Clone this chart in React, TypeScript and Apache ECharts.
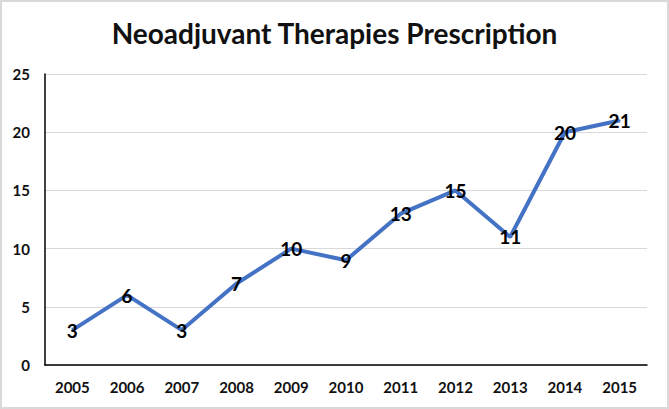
import React, { useEffect, useRef } from "react";
import * as echarts from "echarts";

const years = ["2005", "2006", "2007", "2008", "2009", "2010", "2011", "2012", "2013", "2014", "2015"];
const prescriptions = [3, 6, 3, 7, 10, 9, 13, 15, 11, 20, 21];
const yTicks = { min: 0, max: 25, interval: 5 };
const titleText = "Neoadjuvant Therapies Prescription";

export default function App() {
  const ref = useRef<HTMLDivElement>(null);
  useEffect(() => {
    if (!ref.current) return;
    const chart = echarts.init(ref.current, null, { renderer: "svg" });
    chart.setOption({
      animation: false,
      backgroundColor: "#ffffff",
      title: {
        text: titleText,
        left: "center",
        top: 12,
        textStyle: { fontFamily: "Lato", fontWeight: "bold", fontSize: 28, color: "#111111" },
      },
      grid: { left: 43, right: 20, top: 72, bottom: 42 },
      xAxis: {
        type: "category",
        data: years,
        boundaryGap: true,
        axisLine: { lineStyle: { color: "#000000", width: 1.5 } },
        axisTick: { show: false },
        axisLabel: { fontFamily: "Lato", fontWeight: "bold", fontSize: 15, color: "#111111", margin: 14 },
      },
      yAxis: {
        type: "value",
        min: yTicks.min,
        max: yTicks.max,
        interval: yTicks.interval,
        axisLine: { show: true, lineStyle: { color: "#000000", width: 1.5 } },
        axisTick: { show: false },
        splitLine: { lineStyle: { color: "#d9d9d9", width: 1 } },
        axisLabel: { fontFamily: "Lato", fontWeight: "bold", fontSize: 15, color: "#111111", margin: 15 },
      },
      series: [
        {
          type: "line",
          data: prescriptions,
          symbol: "circle",
          symbolSize: 2,
          showSymbol: true,
          itemStyle: { color: "#4472C4" },
          lineStyle: { color: "#4472C4", width: 4 },
          label: {
            show: true,
            position: "inside",
            fontFamily: "Lato",
            fontWeight: "bold",
            fontSize: 19,
            color: "#000000",
          },
        },
      ],
    });
    return () => chart.dispose();
  }, []);
  return (
    <div
      style={{
        position: "fixed",
        left: 0,
        top: 0,
        width: 669,
        height: 409,
        boxSizing: "border-box",
        border: "2px solid #d9d9d9",
        background: "#fff",
      }}
    >
      <div ref={ref} style={{ width: 665, height: 405 }} />
    </div>
  );
}
